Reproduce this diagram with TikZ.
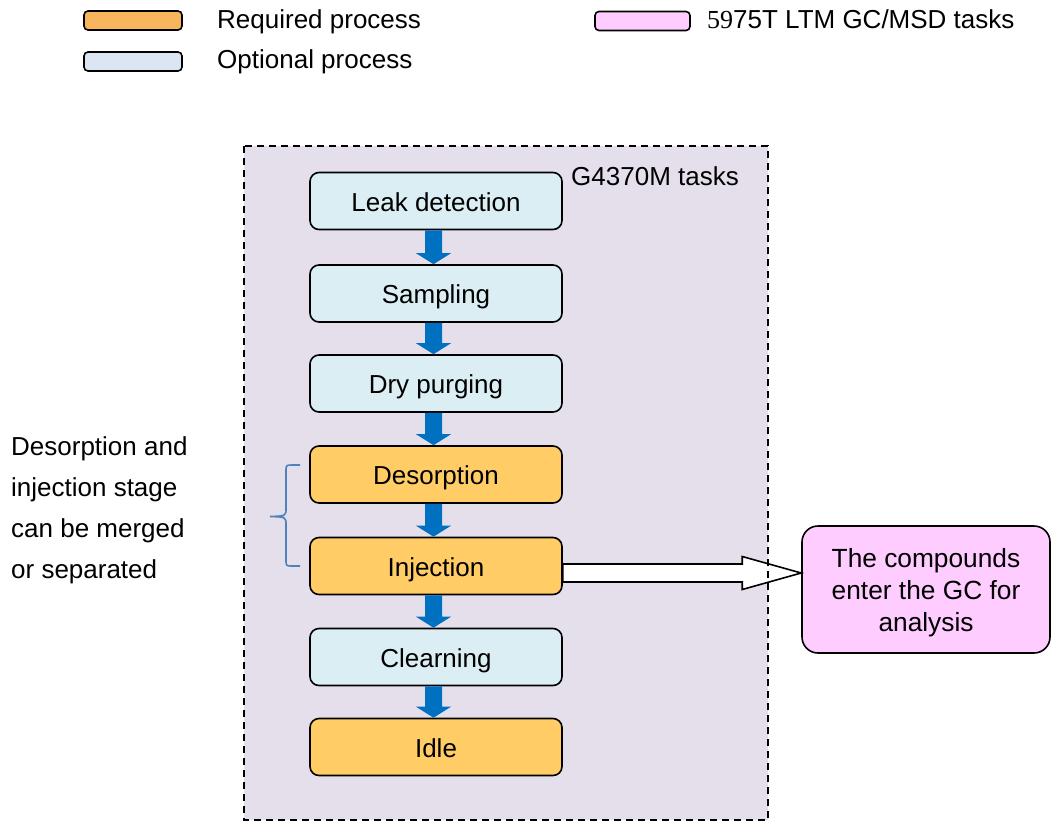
\documentclass[tikz,border=0pt]{standalone}
\usepackage{fontspec}
\setmainfont{Liberation Sans}
\newfontfamily\numserif{Liberation Serif}
\usetikzlibrary{calc}
\definecolor{lav}{RGB}{229,223,236}
\definecolor{optfill}{RGB}{218,238,243}
\definecolor{reqfill}{RGB}{255,204,102}
\definecolor{legreq}{RGB}{247,182,92}
\definecolor{legopt}{RGB}{220,230,242}
\definecolor{pinkfill}{RGB}{255,204,255}
\definecolor{flowblue}{RGB}{0,112,192}
\definecolor{bracecol}{RGB}{79,129,189}
\newcommand\flowarr[2]{%
  \fill[flowblue] ($(#1.south)+(-11,0)$) -- ($(#2.north)+(-11,-11)$) -- ($(#2.north)+(-20,-11)$)
    -- ($(#2.north)+(-2.5,0)$) -- ($(#2.north)+(15,-11)$) -- ($(#2.north)+(6,-11)$)
    -- ($(#1.south)+(6,0)$) -- cycle;}
\begin{document}
\begin{tikzpicture}[x=1pt,y=-1pt,
  every node/.style={font=\fontsize{26}{31}\selectfont, inner sep=0pt},
  proc/.style={draw=black, line width=1.6pt, rounded corners=9pt, minimum width=252pt,
               minimum height=57pt, text height=22pt, text depth=2pt},
  reqbox/.style={proc, fill=reqfill},
  optbox/.style={proc, fill=optfill},
  legbox/.style={draw=black, line width=1.6pt, rounded corners=4pt, minimum height=19pt},
  txt/.style={anchor=base west},
]
\useasboundingbox (0,0) rectangle (1051,822);
% container background
\fill[lav] (244,146) rectangle (768,820);
% legend
\node[legbox, fill=legreq, minimum width=98pt] (lreq) at (133,20.5) {};
\node[legbox, fill=legopt, minimum width=98pt] (lopt) at (133,61.5) {};
\node[legbox, fill=pinkfill, minimum width=95pt] (lgc) at (642.5,21) {};
\node[txt] (treq) at (217,28) {Required process};
\node[txt] (topt) at (217,68.5) {Optional process};
\node[txt] (tgc) at (707,28) {{\numserif 59}75T LTM GC/MSD tasks};
\node[txt] (g43) at (571,185) {G4370M tasks};
% process boxes
\node[optbox] (leak) at (436,201) {Leak detection};
\node[optbox] (samp) at (436,293.5) {Sampling};
\node[optbox] (dry)  at (436,383.5) {Dry purging};
\node[reqbox] (des)  at (436,474.5) {Desorption};
\node[reqbox] (inj)  at (436,566) {Injection};
\node[optbox] (clr)  at (436,657) {Clearning};
\node[reqbox] (idle) at (436,747) {Idle};
% GC box
\node[draw=black, line width=1.6pt, rounded corners=16pt, fill=pinkfill,
      minimum width=248pt, minimum height=127pt, align=center, text depth=-11pt,
      font=\fontsize{26.3}{32}\selectfont] (gc) at (926,589.5)
      {The compounds\\enter the GC for\\analysis};
% blue flow arrows
\flowarr{leak}{samp}
\flowarr{samp}{dry}
\flowarr{dry}{des}
\flowarr{des}{inj}
\flowarr{inj}{clr}
\flowarr{clr}{idle}
% white arrow
\coordinate (tip) at ($(gc.west)+(0,-16.5)$);
\draw[fill=white, line width=1.6pt, line join=miter]
  ($(inj.east)+(0,-2)$) -- ($(tip)+(-59,-9)$) -- ($(tip)+(-59,-16.5)$) -- (tip)
  -- ($(tip)+(-59,16.5)$) -- ($(tip)+(-59,9)$) -- ($(inj.east)+(0,16)$) -- cycle;
% brace
\draw[bracecol, line width=1.6pt]
  (300,465) -- (292,465) .. controls (286,465) .. (286,472) -- (286,508)
  .. controls (286,516) .. (270,516.5) .. controls (286,517) .. (286,525)
  -- (286,559) .. controls (286,566) .. (292,566) -- (300,566);
% side note
\node[anchor=north west, align=left, font=\fontsize{26}{41}\selectfont] (note) at (11,436)
  {Desorption and\\injection stage\\can be merged\\or separated};
% container border
\draw[black, line width=1.6pt, dash pattern=on 7pt off 5pt] (244,146) rectangle (768,820);
\end{tikzpicture}
\end{document}
